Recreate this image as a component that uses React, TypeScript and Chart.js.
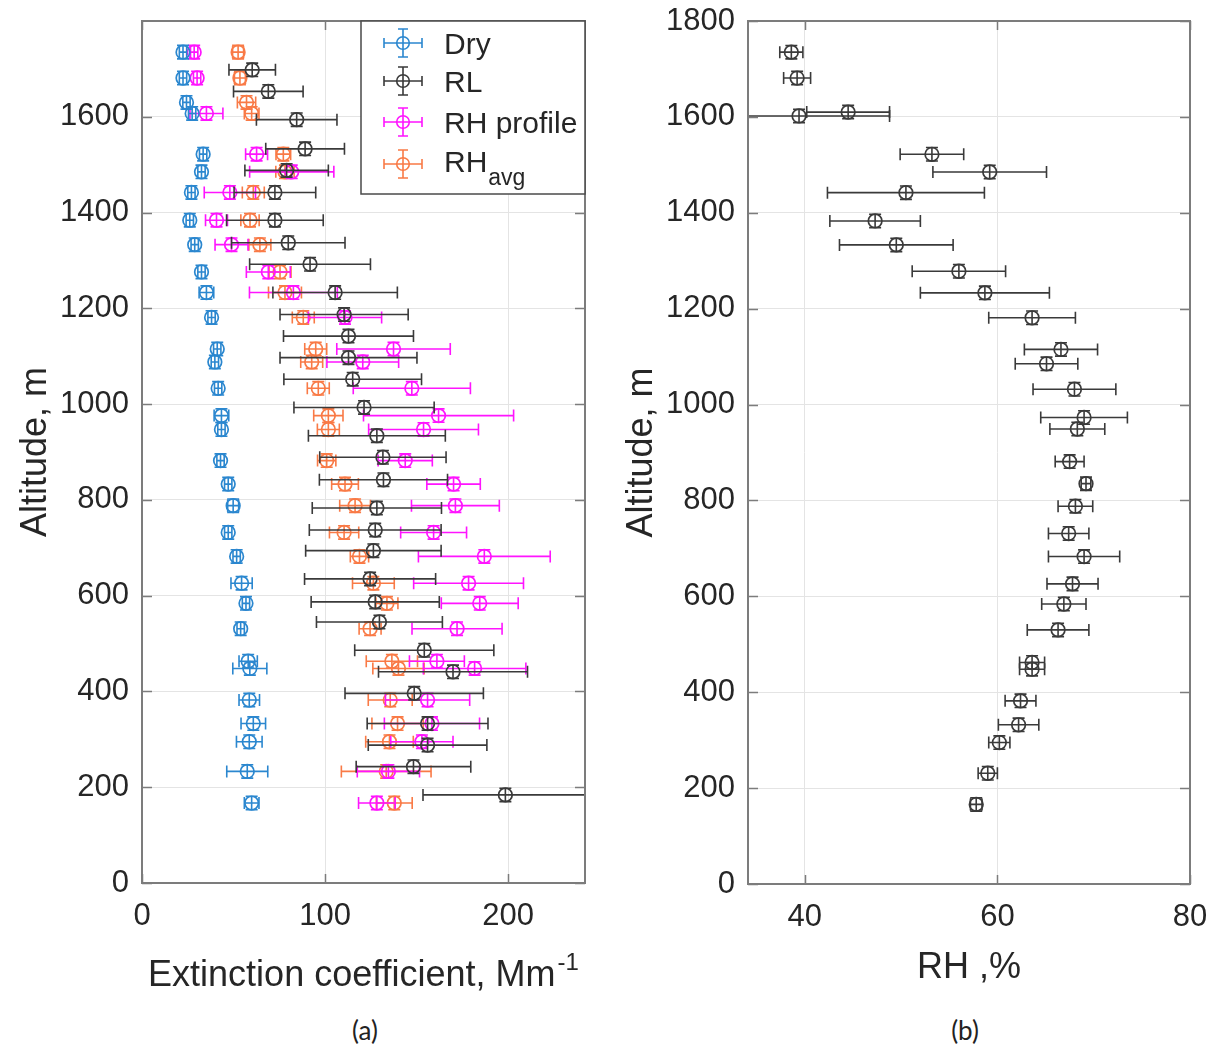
import React, { useEffect, useRef } from "react";
import { Chart, registerables } from "chart.js";

Chart.register(...registerables);

// ---------------- data ----------------
// Panel (a): altitude levels shared by Dry, RH profile and RH_avg
const ALT_A = [1735, 1681, 1630, 1607, 1522, 1485, 1442, 1384, 1333, 1276, 1233, 1181, 1115, 1088, 1033, 976, 947, 882, 833, 788, 732, 682, 626, 584, 531, 463, 448, 382, 333, 295, 233, 167];
const DRY = [22.4, 22.4, 24.3, 27.4, 33.4, 32.5, 27.0, 26.1, 28.8, 32.5, 35.2, 38.0, 41.1, 39.8, 41.6, 43.4, 43.4, 42.9, 47.1, 49.8, 47.1, 51.7, 54.4, 56.8, 53.9, 58.0, 58.9, 58.6, 60.8, 58.6, 57.5, 59.9];
const DRY_ERR = [2, 2, 2, 2, 2, 2, 2, 2, 2, 2, 4, 2, 2, 2, 2, 4, 2, 2, 2, 3, 2, 2, 5.8, 2, 2, 5, 9.3, 5.6, 6.7, 7, 11.2, 4];
const RH_PROFILE: (number | null)[] = [28.5, 30.1, null, 35.2, 62.6, 81.8, 48.0, 40.7, 48.9, 69.0, 82.7, 110.9, 137.4, 120.6, 147.4, 162.0, 153.8, 143.8, 170.2, 171.2, 159.3, 187.0, 178.4, 184.5, 172.1, 161.1, 181.7, 156.0, 158.4, 152.9, 134.6, 128.3];
const RH_PROFILE_ERR = [2, 2, 2, 9, 6, 23, 14, 6, 9, 12, 24, 20, 31, 19.6, 32, 41, 30, 14.8, 14.6, 24, 18, 36, 30, 21, 24.6, 15, 28, 23, 26, 17, 17, 10];
const RH_AVG = [52.5, 53.5, 57.1, 59.9, 77.2, 78.1, 60.8, 59.0, 64.4, 75.4, 78.1, 88.1, 94.9, 92.7, 96.3, 101.8, 101.8, 100.9, 110.9, 116.4, 110.4, 118.8, 126.4, 133.8, 124.6, 136.5, 140.1, 135.6, 139.6, 135.2, 133.4, 137.8];
const RH_AVG_ERR = [3, 3, 5, 4, 4, 5, 6, 5, 6, 6, 9, 6, 6, 6, 6, 8, 6, 5, 7.3, 8.4, 8, 5, 11.4, 6, 6, 14, 14, 12, 14, 13, 24.5, 9.8];

// Panel (a): Raman lidar (RL)
const ALT_RL = [1698, 1653, 1594, 1533, 1488, 1442, 1384, 1337, 1292, 1233, 1187, 1142, 1097, 1052, 993, 934, 889, 842, 783, 737, 694, 635, 587, 545, 486, 441, 396, 333, 288, 243, 184];
const RL = [60.2, 69.0, 84.5, 89.1, 79.0, 72.6, 72.6, 79.9, 91.8, 105.5, 110.4, 112.8, 112.8, 115.1, 121.3, 128.3, 131.6, 131.9, 128.3, 127.4, 126.4, 124.6, 127.4, 129.7, 154.2, 169.9, 148.7, 156.0, 156.0, 148.3, 198.5];
const RL_ERR = [12.7, 19, 22, 21.5, 22.8, 22.3, 26.4, 31, 33, 34, 35, 35.5, 37.4, 37.6, 38.3, 37.4, 34.5, 35, 35.3, 36, 37, 35.8, 35, 34.4, 38, 40.7, 37.8, 33, 32.4, 31.3, 45];

// Panel (b): relative humidity profile
const ALT_B = [1735, 1681, 1610, 1602, 1522, 1485, 1442, 1383, 1333, 1278, 1233, 1181, 1115, 1085, 1032, 973, 949, 881, 835, 788, 731, 683, 626, 584, 530, 462, 448, 382, 332, 295, 231, 166];
const RH = [38.6, 39.2, 44.5, 39.4, 53.2, 59.2, 50.5, 47.3, 49.5, 56.0, 58.7, 63.6, 66.6, 65.1, 68.0, 69.0, 68.3, 67.5, 69.2, 68.1, 67.4, 69.0, 67.8, 66.9, 66.3, 63.6, 63.6, 62.4, 62.2, 60.2, 59.0, 57.8];
const RH_ERR = [1.2, 1.4, 4.3, 9.4, 3.3, 5.9, 8.15, 4.7, 5.9, 4.85, 6.7, 4.5, 3.8, 3.25, 4.3, 4.5, 2.85, 1.5, 0.5, 1.8, 2.1, 3.7, 2.65, 2.3, 3.2, 1.3, 1.3, 1.6, 2.1, 1.1, 1.0, 0.6];

const ALT_ERR = 14; // vertical (altitude) error half-width, m

const EXT_TICKS = [0, 100, 200];
const RH_TICKS = [40, 60, 80];
const ALT_TICKS_A = [0, 200, 400, 600, 800, 1000, 1200, 1400, 1600];
const ALT_TICKS_B = [0, 200, 400, 600, 800, 1000, 1200, 1400, 1600, 1800];

const LEGEND_LABELS = ["Dry", "RL", "RH profile", "RH"];

// ---------------- styles ----------------
const FONT = "Arial, 'Liberation Sans', Helvetica, sans-serif";
const TEXT = "#262626";
const BLUE = "#2b87cf";
const BLACK = "#3a3a3a";
const MAGENTA = "#ff14ff";
const ORANGE = "#f97a46";
const GRID = "#e4e4e4";
const AXIS = "#7c7c7c";

type Pt = { x: number; y: number; xe: number };

function series(alts: number[], vals: (number | null)[], errs: number[]): Pt[] {
  const out: Pt[] = [];
  alts.forEach((a, i) => {
    const v = vals[i];
    if (v !== null && v !== undefined) out.push({ x: v, y: a, xe: errs[i] });
  });
  return out;
}

function dataset(label: string, data: Pt[], color: string) {
  return {
    label,
    data,
    borderColor: color,
    backgroundColor: "rgba(0,0,0,0)",
    pointRadius: 6.8,
    pointHoverRadius: 6.8,
    pointBorderWidth: 1.7,
    pointStyle: "circle",
    showLine: false,
  };
}

function drawErrorGlyph(ctx: CanvasRenderingContext2D, px: number, py: number, x1: number, x2: number, y1: number, y2: number, cap: number) {
  ctx.beginPath();
  ctx.moveTo(x1, py);
  ctx.lineTo(x2, py);
  ctx.moveTo(x1, py - cap);
  ctx.lineTo(x1, py + cap);
  ctx.moveTo(x2, py - cap);
  ctx.lineTo(x2, py + cap);
  ctx.moveTo(px, y1);
  ctx.lineTo(px, y2);
  ctx.moveTo(px - cap, y1);
  ctx.lineTo(px + cap, y1);
  ctx.moveTo(px - cap, y2);
  ctx.lineTo(px + cap, y2);
  ctx.stroke();
}

const errorBars = {
  id: "errorBars",
  beforeDatasetDraw(chart: any, args: any) {
    const ds = chart.data.datasets[args.index];
    const xs = chart.scales.x;
    const ys = chart.scales.y;
    const a = chart.chartArea;
    const ctx: CanvasRenderingContext2D = chart.ctx;
    ctx.save();
    ctx.beginPath();
    ctx.rect(a.left, a.top, a.right - a.left, a.bottom - a.top);
    ctx.clip();
    ctx.strokeStyle = ds.borderColor;
    ctx.lineWidth = 1.6;
    (ds.data as Pt[]).forEach((p) => {
      const px = xs.getPixelForValue(p.x);
      const py = ys.getPixelForValue(p.y);
      const x1 = xs.getPixelForValue(p.x - p.xe);
      const x2 = xs.getPixelForValue(p.x + p.xe);
      const y1 = ys.getPixelForValue(p.y - ALT_ERR);
      const y2 = ys.getPixelForValue(p.y + ALT_ERR);
      drawErrorGlyph(ctx, px, py, x1, x2, y1, y2, 6);
    });
    ctx.restore();
  },
};

function framePlugin(opts: {
  xTicks: number[];
  yTicks: number[];
  xTitle: string;
  xSup?: string;
  xTitleBaseline: number;
  yTitleBaselineX: number;
  legend?: boolean;
}) {
  return {
    id: "frame",
    afterDraw(chart: any) {
      const ctx: CanvasRenderingContext2D = chart.ctx;
      const a = chart.chartArea;
      const xs = chart.scales.x;
      const ys = chart.scales.y;
      ctx.save();
      // inner tick marks
      ctx.strokeStyle = AXIS;
      ctx.lineWidth = 1.5;
      ctx.beginPath();
      opts.xTicks.forEach((v) => {
        const p = Math.round(xs.getPixelForValue(v)) + 0.5;
        ctx.moveTo(p, a.bottom);
        ctx.lineTo(p, a.bottom - 9);
        ctx.moveTo(p, a.top);
        ctx.lineTo(p, a.top + 9);
      });
      opts.yTicks.forEach((v) => {
        const p = Math.round(ys.getPixelForValue(v)) + 0.5;
        ctx.moveTo(a.left, p);
        ctx.lineTo(a.left + 10, p);
        ctx.moveTo(a.right, p);
        ctx.lineTo(a.right - 10, p);
      });
      ctx.stroke();
      // box
      ctx.lineWidth = 2;
      ctx.strokeRect(a.left, a.top, a.right - a.left, a.bottom - a.top);

      // x title (with optional superscript)
      ctx.fillStyle = TEXT;
      ctx.textBaseline = "alphabetic";
      ctx.textAlign = "left";
      ctx.font = `36px ${FONT}`;
      const mainW = ctx.measureText(opts.xTitle).width;
      let supW = 0;
      if (opts.xSup) {
        ctx.font = `24px ${FONT}`;
        supW = ctx.measureText(opts.xSup).width + 2;
      }
      const cx = (a.left + a.right) / 2;
      const startX = cx - (mainW + supW) / 2;
      ctx.font = `36px ${FONT}`;
      ctx.fillText(opts.xTitle, startX, opts.xTitleBaseline);
      if (opts.xSup) {
        ctx.font = `24px ${FONT}`;
        ctx.fillText(opts.xSup, startX + mainW + 2, opts.xTitleBaseline - 16);
      }

      // y title
      ctx.save();
      ctx.translate(opts.yTitleBaselineX, (a.top + a.bottom) / 2);
      ctx.rotate(-Math.PI / 2);
      ctx.font = `36px ${FONT}`;
      ctx.textAlign = "center";
      ctx.textBaseline = "alphabetic";
      ctx.fillText("Altitude, m", 0, 0);
      ctx.restore();

      // legend
      if (opts.legend) {
        const L = 361, T = 21, R = a.right, B = 194;
        ctx.fillStyle = "#ffffff";
        ctx.fillRect(L, T, R - L, B - T);
        ctx.strokeStyle = "#4a4a4a";
        ctx.lineWidth = 1.5;
        ctx.strokeRect(L, T, R - L, B - T);
        const rows = [43, 81, 122, 164];
        const colors = chart.data.datasets.map((d: any) => d.borderColor);
        rows.forEach((y, i) => {
          const ix = 403;
          ctx.strokeStyle = colors[i];
          ctx.lineWidth = 1.6;
          drawErrorGlyph(ctx, ix, y, ix - 19, ix + 19, y - 14, y + 14, 5);
          ctx.beginPath();
          ctx.arc(ix, y, 6.3, 0, Math.PI * 2);
          ctx.stroke();
          ctx.fillStyle = TEXT;
          ctx.textAlign = "left";
          ctx.textBaseline = "alphabetic";
          ctx.font = `30px ${FONT}`;
          const label = LEGEND_LABELS[i];
          const base = i === 3 ? y + 8 : y + 11;
          ctx.fillText(label, 444, base);
          if (i === 3) {
            const w = ctx.measureText(label).width;
            ctx.font = `23px ${FONT}`;
            ctx.fillText("avg", 444 + w + 1, base + 13);
          }
        });
      }
      ctx.restore();
    },
  };
}

function axisOpts(min: number, max: number, ticks: number[], fit: (s: any) => void, padding: number) {
  return {
    type: "linear" as const,
    min,
    max,
    afterBuildTicks: (s: any) => {
      s.ticks = ticks.map((v) => ({ value: v }));
    },
    afterFit: (s: any) => {
      fit(s);
      s.paddingTop = 0;
      s.paddingBottom = 0;
      s.paddingLeft = 0;
      s.paddingRight = 0;
    },
    grid: { color: GRID, lineWidth: 1, drawTicks: false },
    border: { display: false },
    ticks: {
      padding,
      autoSkip: false,
      maxRotation: 0,
      color: TEXT,
      font: { family: FONT, size: 31 },
      callback: (v: any) => String(v),
    },
  };
}

export default function App() {
  const refA = useRef<HTMLCanvasElement>(null);
  const refB = useRef<HTMLCanvasElement>(null);

  useEffect(() => {
    const chartA = new Chart(refA.current as HTMLCanvasElement, {
      type: "scatter",
      data: {
        datasets: [
          dataset("Dry", series(ALT_A, DRY, DRY_ERR), BLUE),
          dataset("RL", series(ALT_RL, RL, RL_ERR), BLACK),
          dataset("RH profile", series(ALT_A, RH_PROFILE, RH_PROFILE_ERR), MAGENTA),
          dataset("RH avg", series(ALT_A, RH_AVG, RH_AVG_ERR), ORANGE),
        ] as any,
      },
      options: {
        responsive: false,
        maintainAspectRatio: false,
        animation: false,
        events: [],
        layout: { padding: { top: 21, right: 15, left: 0, bottom: 0 } },
        plugins: { legend: { display: false }, tooltip: { enabled: false } },
        scales: {
          x: axisOpts(0, 242, EXT_TICKS, (s: any) => { s.height = 117; }, 15),
          y: axisOpts(0, 1800, ALT_TICKS_A, (s: any) => { s.width = 142; }, 13),
        },
      } as any,
      plugins: [
        errorBars,
        framePlugin({
          xTicks: EXT_TICKS,
          yTicks: ALT_TICKS_A,
          xTitle: "Extinction coefficient, Mm",
          xSup: "-1",
          xTitleBaseline: 986,
          yTitleBaselineX: 46,
          legend: true,
        }),
      ],
    });

    const chartB = new Chart(refB.current as HTMLCanvasElement, {
      type: "scatter",
      data: {
        datasets: [dataset("RH", series(ALT_B, RH, RH_ERR), BLACK)] as any,
      },
      options: {
        responsive: false,
        maintainAspectRatio: false,
        animation: false,
        events: [],
        layout: { padding: { top: 21, right: 21, left: 0, bottom: 0 } },
        plugins: { legend: { display: false }, tooltip: { enabled: false } },
        scales: {
          x: axisOpts(34.1, 80, RH_TICKS, (s: any) => { s.height = 116; }, 15),
          y: axisOpts(0, 1800, ALT_TICKS_B, (s: any) => { s.width = 148; }, 13),
        },
      } as any,
      plugins: [
        errorBars,
        framePlugin({
          xTicks: RH_TICKS,
          yTicks: ALT_TICKS_B,
          xTitle: "RH ,%",
          xTitleBaseline: 978,
          yTitleBaselineX: 52,
        }),
      ],
    });

    return () => {
      chartA.destroy();
      chartB.destroy();
    };
  }, []);

  const caption: React.CSSProperties = {
    position: "absolute",
    top: 1012,
    width: 100,
    textAlign: "center",
    font: `26px Lato, 'Open Sans', sans-serif`,
    lineHeight: "36px",
    color: "#222",
  };

  return (
    <div style={{ position: "absolute", left: 0, top: 0, width: 1211, height: 1048, background: "#fff", overflow: "hidden" }}>
      <canvas ref={refA} width={600} height={1000} style={{ position: "absolute", left: 0, top: 0, width: 600, height: 1000 }} />
      <canvas ref={refB} width={611} height={1000} style={{ position: "absolute", left: 600, top: 0, width: 611, height: 1000 }} />
      <div style={{ ...caption, left: 315 }}>(a)</div>
      <div style={{ ...caption, left: 915 }}>(b)</div>
    </div>
  );
}
